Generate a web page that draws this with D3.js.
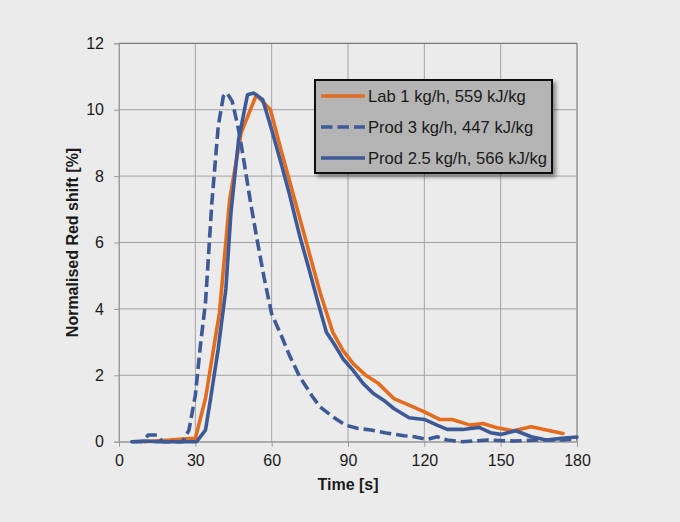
<!DOCTYPE html>
<html><head><meta charset="utf-8">
<script src="https://cdn.jsdelivr.net/npm/d3@7"></script>
<style>
html,body{margin:0;padding:0;background:#ebebeb;}
svg{display:block;font-family:"Liberation Sans",Arial,sans-serif;}
</style></head>
<body>
<svg id="chart" width="680" height="522"></svg>
<script>
// ---- Data ----
const xTicks = [0, 30, 60, 90, 120, 150, 180];
const yTicks = [0, 2, 4, 6, 8, 10, 12];
const seriesNames = ["Lab 1 kg/h, 559 kJ/kg", "Prod 3 kg/h, 447 kJ/kg", "Prod 2.5 kg/h, 566 kJ/kg"];

const labTime = [10,15,20,25,30,34,39.5,43.5,48,54,59.5,64,69,74,79,84,88,92,97,102,108,114,120,126,131,138,143,148.5,155,162,168,174.5];
const labValue = [0,0.03,0.05,0.08,0.1,1.3,3.9,7.3,9.3,10.45,10.0,8.7,7.3,5.9,4.5,3.3,2.75,2.35,2.0,1.75,1.3,1.1,0.9,0.67,0.67,0.5,0.55,0.42,0.33,0.45,0.35,0.25];

const prod3Time = [5,9,11.5,15,17,25,27.5,30,32,34,36.5,39,41,42.5,44.5,47,49,51.5,54,57,60,63.5,67,71,76,79,84,89,94,99,106,112,116,121,125,129,135,145,155,165,175,180];
const prod3Value = [0,0,0.2,0.2,0,0,0.35,1.4,2.9,4.2,7.2,9.5,10.4,10.5,10.25,9.4,8.5,7.3,6.2,4.95,3.85,3.25,2.6,1.96,1.36,1.05,0.75,0.5,0.4,0.35,0.25,0.18,0.15,0.07,0.15,0.05,0,0.05,0.02,0.05,0.05,0.1];

const prod25Time = [5,10,15,20,25,30.5,34,36,39,42,44,47,50.5,53,56.5,60,64,67,71,74.5,78,81.5,84.5,88,92,96,100,104,108,114,120,125,129,135,141.5,146,150,156,162,168,174,180];
const prod25Value = [0,0.02,0,0,0,0,0.35,1.3,2.8,4.6,6.9,9.1,10.45,10.5,10.3,9.4,8.3,7.45,6.2,5.25,4.25,3.3,2.95,2.5,2.15,1.75,1.45,1.25,1.0,0.72,0.67,0.5,0.37,0.37,0.43,0.27,0.22,0.33,0.15,0.05,0.1,0.14];

const colors = ["#e46c1e", "#3d5a97", "#3d5a97"];
const dashes = [null, "11.5,5", null];

// ---- Layout ----
const svg = d3.select("#chart");
const x = d3.scaleLinear().domain([0, 180]).range([119, 577]);
const y = d3.scaleLinear().domain([0, 12]).range([441.7, 43.3]);

svg.append("rect").attr("width", 680).attr("height", 522).attr("fill", "#ebebeb");

// grid
const grid = svg.append("g");
grid.selectAll("line.v").data(xTicks).join("line")
  .attr("x1", d => x(d)).attr("x2", d => x(d))
  .attr("y1", y(0)).attr("y2", y(12))
  .attr("stroke", d => d === 180 ? "#6a6a6a" : "#a3a3a3").attr("stroke-width", 1);
grid.selectAll("line.h").data(yTicks).join("line")
  .attr("x1", x(0)).attr("x2", x(180))
  .attr("y1", d => y(d)).attr("y2", d => y(d))
  .attr("stroke", d => d === 12 ? "#5a5a5a" : "#a3a3a3").attr("stroke-width", 1);

// axes
const xAxis = svg.append("g").attr("transform", `translate(0,${y(0)})`)
  .call(d3.axisBottom(x).tickValues(xTicks).tickSize(5).tickPadding(8).tickFormat(d3.format("d")));
const yAxis = svg.append("g").attr("transform", `translate(${x(0)},0)`)
  .call(d3.axisLeft(y).tickValues(yTicks).tickSize(5).tickPadding(10).tickFormat(d3.format("d")));
[xAxis, yAxis].forEach(g => {
  g.select(".domain").attr("stroke", "#9a9a9a");
  g.selectAll(".tick line").attr("stroke", "#9a9a9a");
  g.selectAll(".tick text").attr("fill", "#1a1a1a").style("font-size", "16px")
    .style("font-family", "'Liberation Sans', Arial, sans-serif");
});

// axis titles
svg.append("text").attr("x", x(90)).attr("y", 490).attr("text-anchor", "middle")
  .style("font-size", "16px").style("font-weight", "bold").attr("fill", "#1a1a1a").text("Time [s]");
svg.append("text").attr("transform", `translate(78,${(y(0)+y(12))/2}) rotate(-90)`)
  .attr("text-anchor", "middle").style("font-size", "16px").style("font-weight", "bold")
  .attr("fill", "#1a1a1a").text("Normalised Red shift [%]");

// series
const series = [
  { t: labTime, v: labValue },
  { t: prod3Time, v: prod3Value },
  { t: prod25Time, v: prod25Value }
];
const line = d3.line().x(d => x(d[0])).y(d => y(d[1]));
series.forEach((s, i) => {
  const pts = s.t.map((t, j) => [t, s.v[j]]);
  svg.append("path").datum(pts).attr("d", line)
    .attr("fill", "none").attr("stroke", colors[i]).attr("stroke-width", 3.6)
    .attr("stroke-linejoin", "round").attr("stroke-linecap", dashes[i] ? "butt" : "round")
    .attr("stroke-dasharray", dashes[i]);
});

// legend
const defs = svg.append("defs");
const f = defs.append("filter").attr("id", "sh").attr("x", "-10%").attr("y", "-10%").attr("width", "130%").attr("height", "140%");
f.append("feGaussianBlur").attr("in", "SourceAlpha").attr("stdDeviation", 2);
f.append("feOffset").attr("dx", 3).attr("dy", 3).attr("result", "ob");
f.append("feComponentTransfer").append("feFuncA").attr("type", "linear").attr("slope", 0.45);
const m = f.append("feMerge");
m.append("feMergeNode");
m.append("feMergeNode").attr("in", "SourceGraphic");

const lg = svg.append("g");
lg.append("rect").attr("x", 315).attr("y", 80).attr("width", 237).attr("height", 93)
  .attr("fill", "#b3b4b3").attr("stroke", "#111").attr("stroke-width", 2).attr("filter", "url(#sh)");
seriesNames.forEach((name, i) => {
  const yy = 96 + i * 31;
  lg.append("line").attr("x1", 321).attr("x2", 365).attr("y1", yy).attr("y2", yy)
    .attr("stroke", colors[i]).attr("stroke-width", 3.6)
    .attr("stroke-dasharray", dashes[i]).attr("stroke-linecap", "butt");
  lg.append("text").attr("x", 368).attr("y", yy).attr("dy", "0.35em")
    .style("font-size", "16.6px").attr("fill", "#1a1a1a").text(name);
});
</script>
</body></html>
